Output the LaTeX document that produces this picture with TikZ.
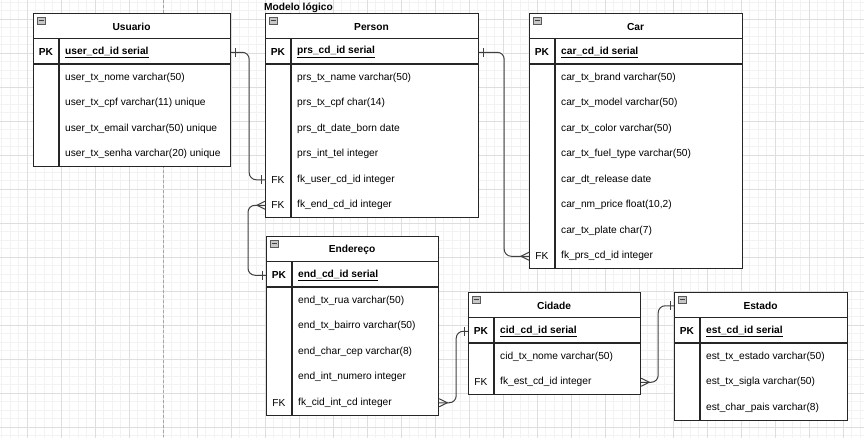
\documentclass[tikz,border=0pt]{standalone}
\usepackage{fontspec}
\setmainfont{Liberation Sans}
\usetikzlibrary{calc}

\begin{document}
\begin{tikzpicture}[x=1pt,y=-1pt,
    font=\fontsize{10.2}{12}\selectfont,
    minorgrid/.style={draw=black!5, line width=0.6pt},
    majorgrid/.style={draw=black!13, line width=0.7pt},
    pagebreak/.style={draw=black!35, line width=0.8pt, dash pattern=on 3pt off 2pt},
    entity/.style={draw=black!85, line width=1.2pt, fill=white, inner sep=0pt, anchor=north west},
    rowline/.style={draw=black!85, line width=1.2pt},
    hdr/.style={font=\fontsize{10.2}{12}\selectfont\bfseries, yshift=-1pt},
    pkey/.style={font=\fontsize{10.2}{12}\selectfont\bfseries, inner sep=0pt, yshift=-1pt},
    fkey/.style={inner sep=0pt, yshift=-1pt},
    fname/.style={anchor=west, inner sep=0pt, yshift=-1pt},
    pkname/.style={anchor=west, inner sep=0pt, yshift=-1pt, font=\fontsize{10.2}{12}\selectfont\bfseries},
    conn/.style={draw=black!75, line width=1pt, rounded corners=7pt},
    ermark/.style={draw=black!75, line width=1pt},
    foldbox/.pic={\draw[fill=black!22, draw=black!65, line width=0.7pt] (-4,-3.5) rectangle (4,3.5);
                  \draw[black!75, line width=1.3pt] (-2.5,0) -- (2.5,0);},
    one-e/.pic={\draw[ermark] (4,-4.5) -- (4,4.5);},
    one-w/.pic={\draw[ermark] (-4,-4.5) -- (-4,4.5);},
    many-e/.pic={\draw[ermark] (0,-4) -- (8,0) -- (0,4);},
    many-w/.pic={\draw[ermark] (0,-4) -- (-8,0) -- (0,4);}]

    % background grid
    \useasboundingbox (0,0) rectangle (864,437);
    \draw[minorgrid, shift={(1.5,2)}] (-10,445) grid[step=8.5pt] (870,-10);
    \draw[majorgrid, shift={(27,19)}] (-40,445) grid[step=34pt] (870,-30);
    \draw[pagebreak] (163,0) -- (163,437);

    \node[hdr, anchor=west, inner sep=0pt] (model) at (264,6.5) {Modelo lógico};

    % Usuario
    \node[entity, minimum width=197pt, minimum height=153pt] (usuario) at (33,13) {};
    \draw[rowline] (33,38.5) -- (230,38.5);
    \draw[rowline] (33,64) -- (230,64);
    \draw[rowline] (59,38.5) -- (59,166);
    \pic at (41,20.5) {foldbox};
    \node[hdr] (usr-title) at (131.5,25.75) {Usuario};
    \node[pkey] (usr-pk) at (46,51.25) {PK};
    \node[pkname] (usr-id) at (65,51.25) {\underline{user\_cd\_id serial}};
    \node[fname] (usr-nome) at (65,76.75) {user\_tx\_nome varchar(50)};
    \node[fname] (usr-cpf) at (65,102.25) {user\_tx\_cpf varchar(11) unique};
    \node[fname] (usr-email) at (65,127.75) {user\_tx\_email varchar(50) unique};
    \node[fname] (usr-senha) at (65,153.25) {user\_tx\_senha varchar(20) unique};

    % Person
    \node[entity, minimum width=213pt, minimum height=204pt] (person) at (265,13) {};
    \draw[rowline] (265,38.5) -- (478,38.5);
    \draw[rowline] (265,64) -- (478,64);
    \draw[rowline] (291,38.5) -- (291,217);
    \pic at (273,20.5) {foldbox};
    \node[hdr] (prs-title) at (371.5,25.75) {Person};
    \node[pkey] (prs-pk) at (278,51.25) {PK};
    \node[pkname] (prs-id) at (297,51.25) {\underline{prs\_cd\_id serial}};
    \node[fname] (prs-name) at (297,76.75) {prs\_tx\_name varchar(50)};
    \node[fname] (prs-cpf) at (297,102.25) {prs\_tx\_cpf char(14)};
    \node[fname] (prs-born) at (297,127.75) {prs\_dt\_date\_born date};
    \node[fname] (prs-tel) at (297,153.25) {prs\_int\_tel integer};
    \node[fkey] (prs-fku) at (278,178.75) {FK};
    \node[fname] (prs-user) at (297,178.75) {fk\_user\_cd\_id integer};
    \node[fkey] (prs-fke) at (278,204.25) {FK};
    \node[fname] (prs-end) at (297,204.25) {fk\_end\_cd\_id integer};

    % Car
    \node[entity, minimum width=213pt, minimum height=255pt] (car) at (529,13) {};
    \draw[rowline] (529,38.5) -- (742,38.5);
    \draw[rowline] (529,64) -- (742,64);
    \draw[rowline] (555,38.5) -- (555,268);
    \pic at (537,20.5) {foldbox};
    \node[hdr] (car-title) at (635.5,25.75) {Car};
    \node[pkey] (car-pk) at (542,51.25) {PK};
    \node[pkname] (car-id) at (561,51.25) {\underline{car\_cd\_id serial}};
    \node[fname] (car-brand) at (561,76.75) {car\_tx\_brand varchar(50)};
    \node[fname] (car-model) at (561,102.25) {car\_tx\_model varchar(50)};
    \node[fname] (car-color) at (561,127.75) {car\_tx\_color varchar(50)};
    \node[fname] (car-fuel) at (561,153.25) {car\_tx\_fuel\_type varchar(50)};
    \node[fname] (car-release) at (561,178.75) {car\_dt\_release date};
    \node[fname] (car-price) at (561,204.25) {car\_nm\_price float(10,2)};
    \node[fname] (car-plate) at (561,229.75) {car\_tx\_plate char(7)};
    \node[fkey] (car-fk) at (542,255.25) {FK};
    \node[fname] (car-prs) at (561,255.25) {fk\_prs\_cd\_id integer};

    % Endereco
    \node[entity, minimum width=172pt, minimum height=178.5pt] (endereco) at (266,236) {};
    \draw[rowline] (266,261.5) -- (438,261.5);
    \draw[rowline] (266,287) -- (438,287);
    \draw[rowline] (292,261.5) -- (292,414.5);
    \pic at (274,243.5) {foldbox};
    \node[hdr] (end-title) at (352,248.75) {Endereço};
    \node[pkey] (end-pk) at (279,274.25) {PK};
    \node[pkname] (end-id) at (298,274.25) {\underline{end\_cd\_id serial}};
    \node[fname] (end-rua) at (298,299.75) {end\_tx\_rua varchar(50)};
    \node[fname] (end-bairro) at (298,325.25) {end\_tx\_bairro varchar(50)};
    \node[fname] (end-cep) at (298,350.75) {end\_char\_cep varchar(8)};
    \node[fname] (end-numero) at (298,376.25) {end\_int\_numero integer};
    \node[fkey] (end-fk) at (279,401.75) {FK};
    \node[fname] (end-cid) at (298,401.75) {fk\_cid\_int\_cd integer};

    % Cidade
    \node[entity, minimum width=172pt, minimum height=102pt] (cidade) at (468,292) {};
    \draw[rowline] (468,317.5) -- (640,317.5);
    \draw[rowline] (468,343) -- (640,343);
    \draw[rowline] (494,317.5) -- (494,394);
    \pic at (476,299.5) {foldbox};
    \node[hdr] (cid-title) at (554,304.75) {Cidade};
    \node[pkey] (cid-pk) at (481,330.25) {PK};
    \node[pkname] (cid-id) at (500,330.25) {\underline{cid\_cd\_id serial}};
    \node[fname] (cid-nome) at (500,355.75) {cid\_tx\_nome varchar(50)};
    \node[fkey] (cid-fk) at (481,381.25) {FK};
    \node[fname] (cid-est) at (500,381.25) {fk\_est\_cd\_id integer};

    % Estado
    \node[entity, minimum width=173pt, minimum height=127.5pt] (estado) at (674,292) {};
    \draw[rowline] (674,317.5) -- (847,317.5);
    \draw[rowline] (674,343) -- (847,343);
    \draw[rowline] (700,317.5) -- (700,419.5);
    \pic at (682,299.5) {foldbox};
    \node[hdr] (est-title) at (760.5,304.75) {Estado};
    \node[pkey] (est-pk) at (687,330.25) {PK};
    \node[pkname] (est-id) at (706,330.25) {\underline{est\_cd\_id serial}};
    \node[fname] (est-estado) at (706,355.75) {est\_tx\_estado varchar(50)};
    \node[fname] (est-sigla) at (706,381.25) {est\_tx\_sigla varchar(50)};
    \node[fname] (est-pais) at (706,406.75) {est\_char\_pais varchar(8)};

    % relationships
    \draw[conn] (usuario.east |- usr-pk) -- ++(18,0) |- (person.west |- prs-fku);
    \pic at (usuario.east |- usr-pk) {one-e};
    \pic at (person.west |- prs-fku) {one-w};

    \draw[conn] (person.west |- prs-fke) -- ++(-17,0) |- (endereco.west |- end-pk);
    \pic at (person.west |- prs-fke) {many-w};
    \pic at (endereco.west |- end-pk) {one-w};

    \draw[conn] (person.east |- prs-pk) -- ++(25,0) |- (car.west |- car-fk);
    \pic at (person.east |- prs-pk) {one-e};
    \pic at (car.west |- car-fk) {many-w};

    \draw[conn] (endereco.east |- end-fk) -- ++(17,0) |- (cidade.west |- cid-pk);
    \pic at (endereco.east |- end-fk) {many-e};
    \pic at (cidade.west |- cid-pk) {one-w};

    \draw[conn] (cidade.east |- cid-fk) -- ++(17,0) |- (estado.west |- est-title);
    \pic at (cidade.east |- cid-fk) {many-e};
    \pic at (estado.west |- est-title) {one-w};
\end{tikzpicture}
\end{document}
